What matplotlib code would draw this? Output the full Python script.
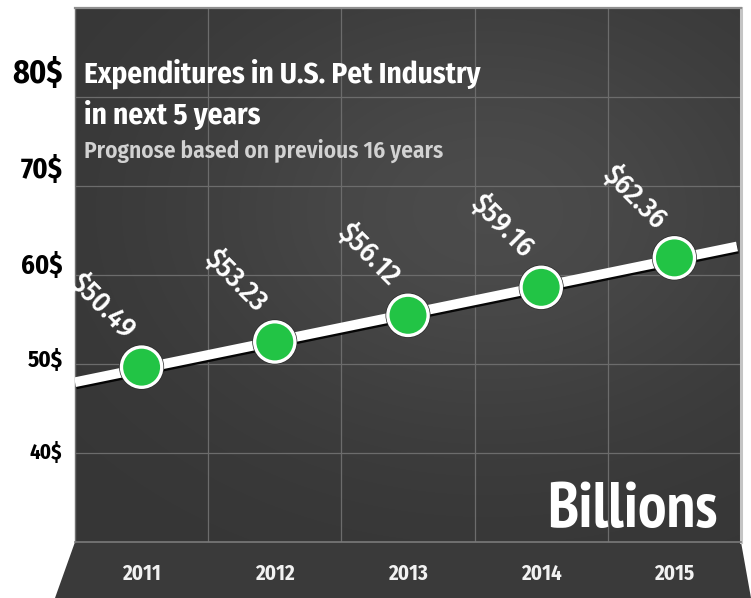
import matplotlib
matplotlib.use("Agg")
import matplotlib.pyplot as plt
import matplotlib.patheffects as pe
from matplotlib.patches import Polygon
import numpy as np

plt.rcParams["font.family"] = ["Fira Sans Condensed", "DejaVu Sans"]

# forecast values, billions of USD
years = [2011, 2012, 2013, 2014, 2015]
spend = [50.49, 53.23, 56.12, 59.16, 62.36]
value_labels = ["$50.49", "$53.23", "$56.12", "$59.16", "$62.36"]
axis_labels = ["80$", "70$", "60$", "50$", "40$"]

title_lines = ["Expenditures in U.S. Pet Industry", "in next 5 years"]
subtitle = "Prognose based on previous 16 years"
unit_text = "Billions"

W, H = 751, 598
fig = plt.figure(figsize=(W / 100, H / 100), dpi=100, facecolor="white")

# panel in pixel terms: x 75..741, y 8..542 (from top)
ax = fig.add_axes([75 / W, 1 - 542 / H, 666 / W, 534 / H])
ax.set_xlim(-0.5, len(years) - 0.5)
ax.set_ylim(31.5, 89.5)

# soft radial gradient behind the grid
gx, gy = np.meshgrid(np.linspace(0, 1, 300), np.linspace(0, 1, 240))
shade = 0.21 + 0.085 * np.exp(-((gx - 0.62) ** 2 / 0.22 + (gy - 0.62) ** 2 / 0.18))
ax.imshow(np.dstack([shade] * 3), extent=[0, 1, 0, 1], transform=ax.transAxes,
          origin="lower", aspect="auto", zorder=0, interpolation="bilinear")

# 5 x 6 decorative grid
for k in range(1, len(years)):
    ax.axvline(k - 0.5, color="#6c6c6c", lw=0.9, zorder=1)
for k in range(1, 6):
    ax.plot([0, 1], [k / 6, k / 6], transform=ax.transAxes,
            color="#6c6c6c", lw=0.9, zorder=1)

for side, col, lw in [("top", "#8e8e8e", 1.6), ("right", "#c4c4c4", 2.2),
                      ("left", "#707070", 1.0), ("bottom", "#7a7a7a", 1.2)]:
    ax.spines[side].set_color(col)
    ax.spines[side].set_linewidth(lw)

# trend line through the forecast
idx = np.arange(len(years))
m, b = np.polyfit(idx, spend, 1)
x_line = np.array([-0.5, len(years) - 0.53])
ax.plot(x_line, m * x_line + b, color="white", lw=7, solid_capstyle="butt",
        zorder=3, clip_on=True,
        path_effects=[pe.SimpleLineShadow(offset=(0.6, -1.6), shadow_color="black",
                                          alpha=0.9), pe.Normal()])

ax.plot(idx, spend, ls="none", marker="o", ms=29, mfc="#22c445", mec="white",
        mew=2.4, zorder=4,
        path_effects=[pe.Stroke(linewidth=3.4, foreground="#2a2a2a"), pe.Normal()])

for i, (v, lab) in enumerate(zip(spend, value_labels)):
    ax.annotate(lab, (i, v), xytext=(-28, 44), textcoords="offset points",
                ha="center", va="center", rotation=-45, rotation_mode="anchor",
                color="white", fontsize=21, fontweight="medium", zorder=5)

# heading
ax.text(0.0135, 0.861, title_lines[0], transform=ax.transAxes, color="white",
        fontsize=21, fontweight="bold", va="baseline", zorder=5)
ax.text(0.0135, 0.783, title_lines[1], transform=ax.transAxes, color="white",
        fontsize=21, fontweight="bold", va="baseline", zorder=5)
ax.text(0.0135, 0.719, subtitle, transform=ax.transAxes, color="#d2d2d2",
        fontsize=16.8, fontweight="semibold", va="baseline", zorder=5)
ax.text(0.9655, 0.028, unit_text, transform=ax.transAxes, color="white",
        fontsize=46, fontweight="bold", ha="right", va="baseline", zorder=5,
        family=["PT Sans Narrow", "DejaVu Sans"])

# left labels shrink downward
label_rows = [0.876, 0.697, 0.516, 0.341, 0.167]
label_sizes = [23, 20.5, 19, 16.5, 15]
for lab, row, size in zip(axis_labels, label_rows, label_sizes):
    ax.annotate(lab, (0, row), xycoords="axes fraction", xytext=(-9, 0),
                textcoords="offset points", ha="right", va="center",
                color="black", fontsize=size, fontweight="bold")

# dark base band under the panel
band = Polygon([(75 / W, 1 - 542 / H), (741 / W, 1 - 542 / H),
                (1.0, 0.0), (55 / W, 0.0)], closed=True,
               transform=fig.transFigure, facecolor="#3a3a3a", edgecolor="none",
               zorder=-1)
fig.patches.append(band)

ax.set_xticks(idx)
ax.set_xticklabels([str(y) for y in years], color="#f2f2f2", fontsize=15,
                   fontweight="bold")
ax.tick_params(axis="x", length=0, pad=15)
ax.set_yticks([])

fig.savefig("out.png", dpi=100, facecolor="white")
